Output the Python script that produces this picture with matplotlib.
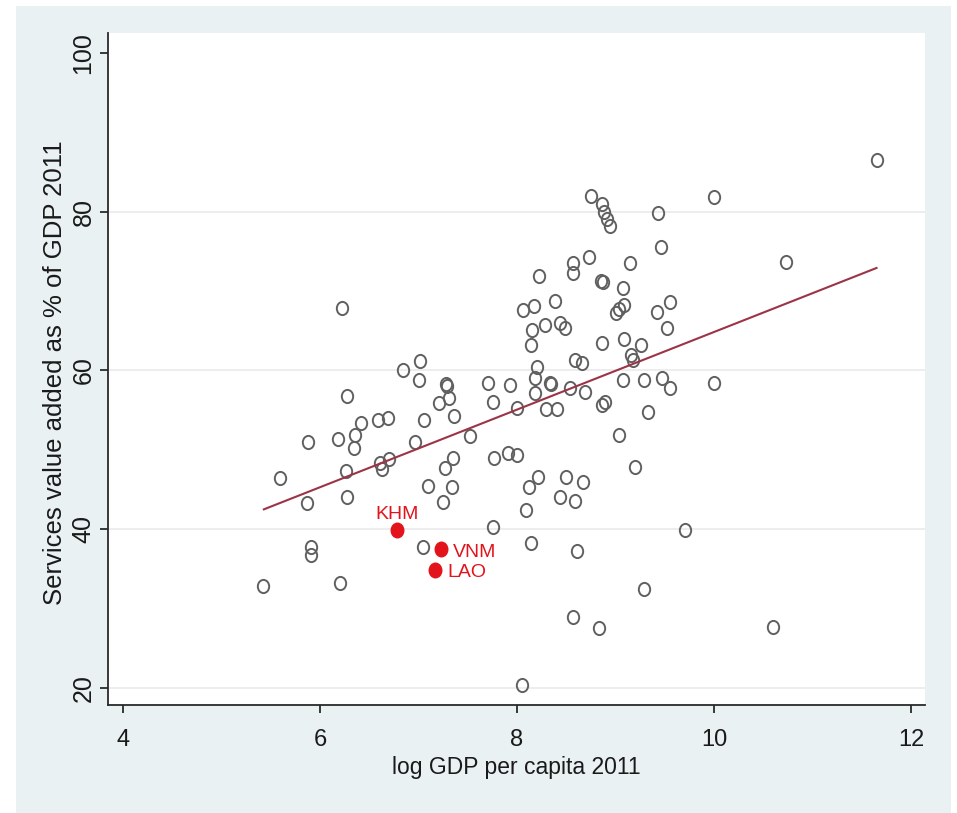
import numpy as np
import matplotlib
matplotlib.use("Agg")
import matplotlib.pyplot as plt
from matplotlib.path import Path
from matplotlib.transforms import Affine2D
from matplotlib.patches import Rectangle

plt.rcParams["font.family"] = ["Liberation Sans", "DejaVu Sans"]

# Log GDP per capita (2011) and services value added (% of GDP) by country
log_gdp = [
    5.42, 5.59, 5.87, 5.88, 5.91, 5.91, 6.20, 6.22, 6.18, 6.27,
    6.26, 6.27, 6.35, 6.36, 6.42, 6.59, 6.69, 6.61, 6.70, 6.63,
    6.84, 7.02, 7.01, 7.28, 7.29, 7.21, 7.31, 7.06, 7.36, 6.96,
    7.52, 7.71, 7.93, 7.76, 8.00, 7.27, 7.35, 7.77, 7.91, 8.00,
    7.10, 7.34, 7.25, 7.76, 7.05,
    8.75, 8.86, 8.88, 8.91, 8.94, 8.73, 8.57, 8.57, 8.22, 8.85,
    8.87, 8.39, 8.17, 8.06, 9.43, 9.46, 9.15, 10.00, 10.73, 9.08,
    9.00, 9.04, 9.09, 9.42, 9.55, 9.52, 8.15, 8.28, 8.44, 8.49,
    8.14, 8.86, 9.09, 9.26, 9.16, 9.18, 8.59, 8.66, 8.20, 8.18,
    8.33, 8.35, 9.08, 9.29, 9.47, 9.55, 10.00, 8.54, 8.69, 8.18,
    8.29, 8.41, 8.86, 8.89, 9.33, 9.04, 9.20, 8.21, 8.12, 8.50,
    8.67, 8.44, 8.59, 8.09, 9.71, 8.14, 8.61, 9.29, 8.57, 8.83,
    10.60, 8.05, 11.65,
]
services_share = [
    32.8, 46.4, 43.3, 51.0, 37.8, 36.8, 33.2, 67.8, 51.4, 56.8,
    47.3, 44.1, 50.2, 51.9, 53.4, 53.8, 54.0, 48.3, 48.8, 47.6,
    60.0, 61.2, 58.8, 58.3, 58.0, 55.9, 56.5, 53.8, 54.3, 51.0,
    51.7, 58.4, 58.2, 56.0, 55.3, 47.7, 49.0, 49.0, 49.6, 49.3,
    45.4, 45.3, 43.4, 40.3, 37.8,
    82.0, 80.9, 79.9, 79.1, 78.2, 74.3, 73.5, 72.3, 71.9, 71.3,
    71.1, 68.7, 68.1, 67.6, 79.8, 75.5, 73.5, 81.9, 73.7, 70.4,
    67.2, 67.7, 68.2, 67.4, 68.6, 65.3, 65.1, 65.7, 66.0, 65.3,
    63.2, 63.4, 64.0, 63.2, 61.9, 61.3, 61.3, 60.9, 60.4, 59.0,
    58.4, 58.3, 58.8, 58.8, 59.0, 57.8, 58.4, 57.8, 57.3, 57.2,
    55.1, 55.2, 55.7, 56.0, 54.8, 51.9, 47.8, 46.6, 45.3, 46.6,
    46.0, 44.1, 43.6, 42.4, 39.9, 38.3, 37.2, 32.5, 28.9, 27.6,
    27.7, 20.4, 86.5,
]

# Highlighted countries
hl_codes = ["KHM", "VNM", "LAO"]
hl_gdp = [6.78, 7.23, 7.17]
hl_services = [39.9, 37.5, 34.9]

# Fitted values of the linear fit at both ends of the data range
fit_gdp = [5.43, 11.65]
fit_services = [42.5, 72.9]

x_ticks = [4, 6, 8, 10, 12]
y_ticks = [20, 40, 60, 80, 100]
grid_levels = [20, 40, 60, 80]

W, H = 957, 813
fig = plt.figure(figsize=(W / 100, H / 100), dpi=100, facecolor="white")
fig.patches.append(Rectangle((16 / W, 0), (951 - 16) / W, (H - 6) / H,
                             transform=fig.transFigure, facecolor="#e9f1f3",
                             edgecolor="none", zorder=-10))

ax = fig.add_axes([108 / W, 1 - 705 / H, (925 - 108) / W, (705 - 33) / H])
ax.set_facecolor("white")

# slightly tall ellipse marker
ell = Path.unit_circle().transformed(Affine2D().scale(0.86, 1.0))

for lvl in grid_levels:
    ax.axhline(lvl, color="#e9eced", lw=1.3, zorder=1)

ax.plot(log_gdp, services_share, linestyle="none", marker=ell, markersize=9.5,
        markerfacecolor="none", markeredgecolor="#606060", markeredgewidth=1.4,
        zorder=3)

ax.plot(fit_gdp, fit_services, color="#9b3446", lw=1.5, zorder=4)

ax.plot(hl_gdp, hl_services, linestyle="none", marker=ell, markersize=10.5,
        markerfacecolor="#e3131b", markeredgecolor="#e3131b", zorder=5)

label_offsets = {"KHM": (0, 5, "center", "bottom"),
                 "VNM": (8.5, -2.5, "left", "center"),
                 "LAO": (9.0, -2.0, "left", "center")}
for code, gx, sy in zip(hl_codes, hl_gdp, hl_services):
    dx, dy, ha, va = label_offsets[code]
    ax.annotate(code, (gx, sy), xytext=(dx, dy), textcoords="offset points",
                ha=ha, va=va, color="#e3131b", fontsize=14, zorder=6)

ax.set_xlim(4 + (108 - 123) / 98.5, 4 + (925 - 123) / 98.5)
ax.set_ylim(20 - (705 - 688) / 7.94, 20 + (688 - 33) / 7.94)
ax.set_xticks(x_ticks)
ax.set_yticks(y_ticks)

for side in ("top", "right"):
    ax.spines[side].set_visible(False)
for side in ("left", "bottom"):
    ax.spines[side].set_color("#2a2a2a")
    ax.spines[side].set_linewidth(1.3)

ax.tick_params(axis="both", direction="out", length=6, width=1.3,
               color="#2a2a2a", labelcolor="#1a1a1a")
ax.tick_params(axis="x", labelsize=17, pad=11)
ax.tick_params(axis="y", labelsize=18, pad=3)
for lab in ax.get_yticklabels():
    lab.set_rotation(90)
    lab.set_va("center")

ax.set_xlabel("log GDP per capita 2011", fontsize=16.5, color="#1a1a1a", va="center")
ax.xaxis.set_label_coords(0.5, -(767 - 705) / (705 - 33))
ax.set_ylabel("Services value added as % of GDP 2011", fontsize=18.5,
              color="#1a1a1a", va="center")
ax.yaxis.set_label_coords(-(108 - 55) / (925 - 108), 0.5 - (373 - 369) / (705 - 33))

fig.savefig("out.png", dpi=100, facecolor="white")
